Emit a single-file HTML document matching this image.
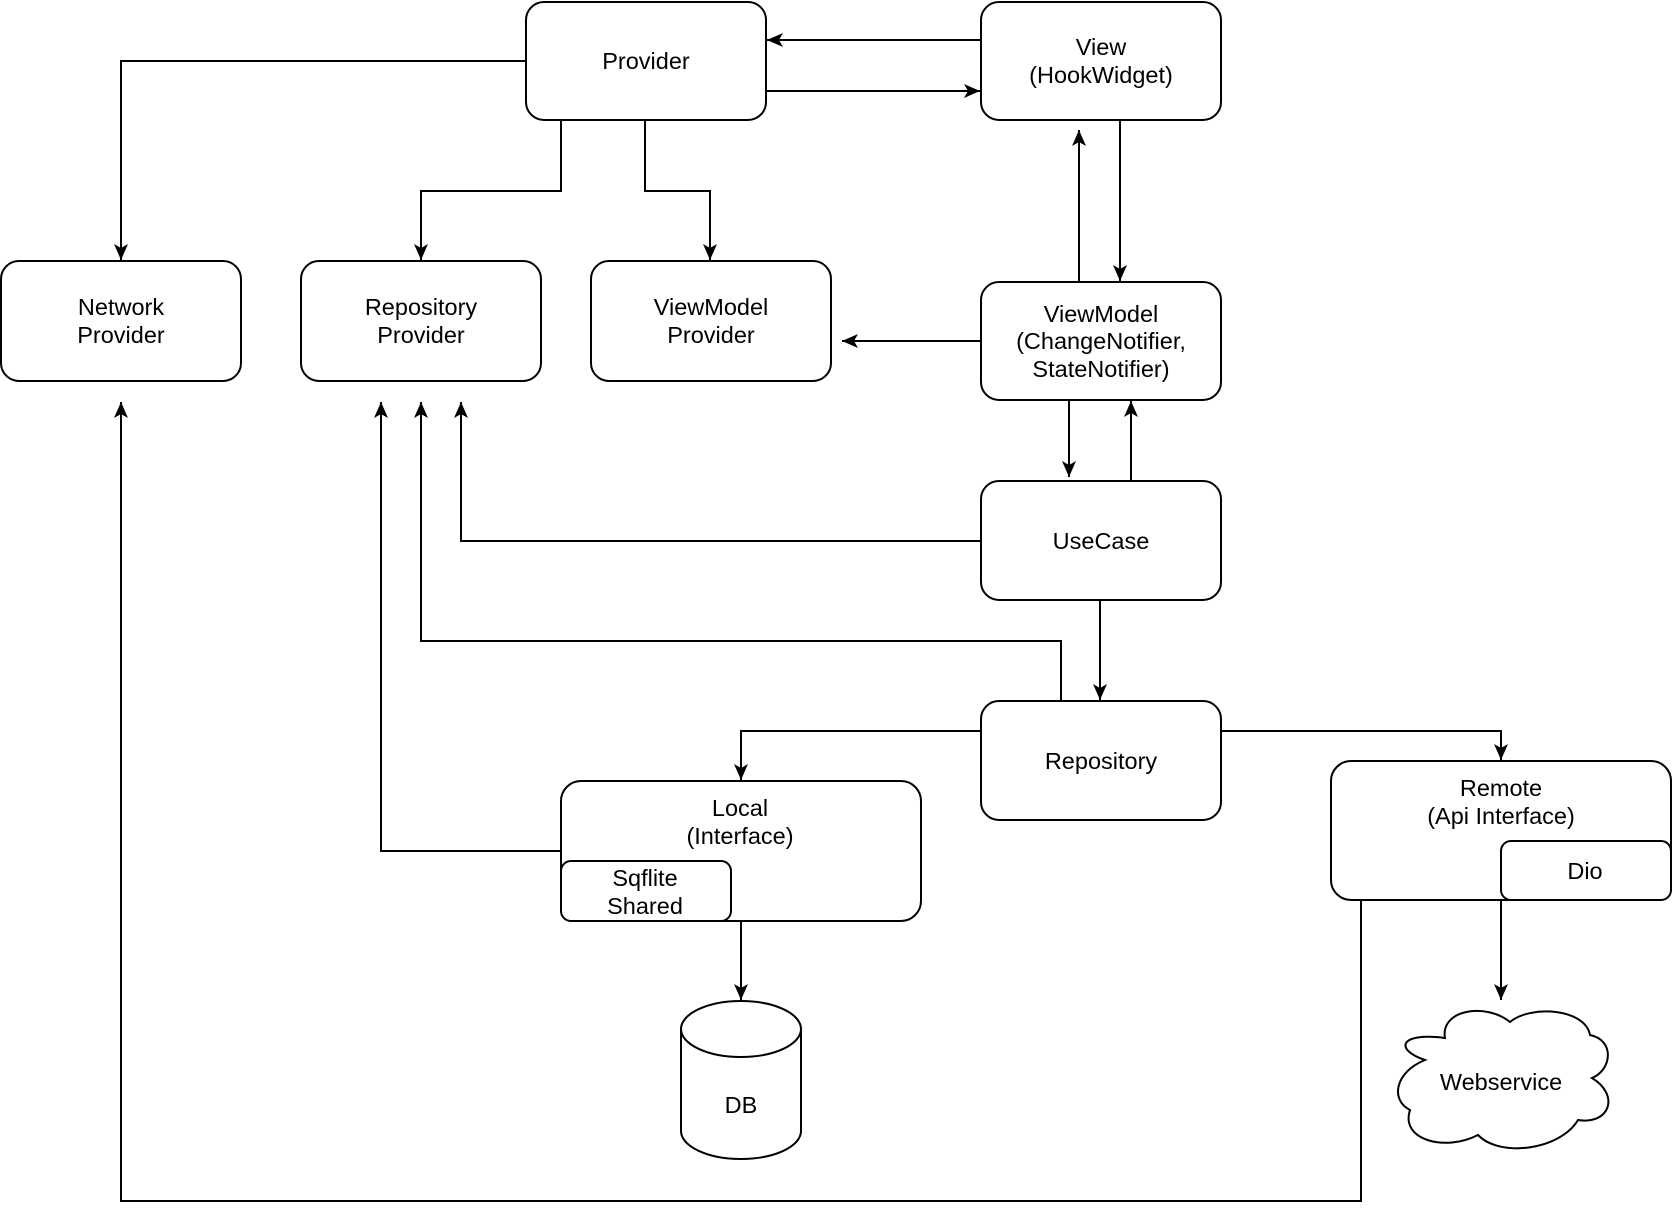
<!DOCTYPE html>
<html><head><meta charset="utf-8"><style>
html,body{margin:0;padding:0;background:#fff;}
svg{display:block;}
text{font-family:"Liberation Sans",Arial,sans-serif;font-size:23.5px;fill:#000;text-anchor:middle;}
</style></head><body>
<svg width="1672" height="1218" viewBox="0 0 1672 1218" xmlns="http://www.w3.org/2000/svg">
<defs>
<marker id="a" markerWidth="18" markerHeight="16" refX="16" refY="7" orient="auto" markerUnits="userSpaceOnUse">
<path d="M0,0 L16,7 L0,14 L4,7 Z" fill="#000"/>
</marker>
</defs>
<g fill="#fff" stroke="#000" stroke-width="2">
<rect x="526" y="2" width="240" height="118" rx="18"/>
<rect x="981" y="2" width="240" height="118" rx="18"/>
<rect x="1" y="261" width="240" height="120" rx="18"/>
<rect x="301" y="261" width="240" height="120" rx="18"/>
<rect x="591" y="261" width="240" height="120" rx="18"/>
<rect x="981" y="282" width="240" height="118" rx="18"/>
<rect x="981" y="481" width="240" height="119" rx="18"/>
<rect x="981" y="701" width="240" height="119" rx="18"/>
<rect x="561" y="781" width="360" height="140" rx="20"/>
<rect x="561" y="861" width="170" height="60" rx="10"/>
<rect x="1331" y="761" width="340" height="139" rx="20"/>
<rect x="1501" y="841" width="170" height="59" rx="10"/>
<path d="M681,1029 A60,28 0 0 1 801,1029 L801,1131 A60,28 0 0 1 681,1131 Z"/>
<path d="M681,1029 A60,28 0 0 0 801,1029" fill="none"/>
<path d="M1425,1060 C1395,1050 1398,1032 1445,1038 C1440,1010 1485,1002 1510,1022 C1530,1005 1585,1008 1590,1035 C1615,1040 1612,1070 1592,1078 C1620,1095 1610,1125 1578,1120 C1560,1150 1500,1158 1478,1135 C1445,1152 1400,1140 1410,1110 C1390,1100 1395,1072 1425,1060 Z"/>
</g>
<g fill="none" stroke="#000" stroke-width="2">
<path d="M981,40 L767,40" marker-end="url(#a)"/>
<path d="M766,91 L980,91" marker-end="url(#a)"/>
<path d="M526,61 L121,61 L121,260" marker-end="url(#a)"/>
<path d="M561,120 L561,191 L421,191 L421,260" marker-end="url(#a)"/>
<path d="M645,120 L645,191 L710,191 L710,260" marker-end="url(#a)"/>
<path d="M1079,282 L1079,130" marker-end="url(#a)"/>
<path d="M1120,120 L1120,281" marker-end="url(#a)"/>
<path d="M981,341 L842,341" marker-end="url(#a)"/>
<path d="M1069,400 L1069,477" marker-end="url(#a)"/>
<path d="M1131,481 L1131,401" marker-end="url(#a)"/>
<path d="M981,541 L461,541 L461,402" marker-end="url(#a)"/>
<path d="M1100,600 L1100,700" marker-end="url(#a)"/>
<path d="M1061,701 L1061,641 L421,641 L421,402" marker-end="url(#a)"/>
<path d="M981,731 L741,731 L741,780" marker-end="url(#a)"/>
<path d="M1221,731 L1501,731 L1501,760" marker-end="url(#a)"/>
<path d="M561,851 L381,851 L381,402" marker-end="url(#a)"/>
<path d="M741,921 L741,1000" marker-end="url(#a)"/>
<path d="M1501,900 L1501,1000" marker-end="url(#a)"/>
<path d="M1361,900 L1361,1201 L121,1201 L121,402" marker-end="url(#a)"/>
</g>
<text x="646" y="69">Provider</text>
<text x="1101" y="55">View</text>
<text x="1101" y="83">(HookWidget)</text>
<text x="121" y="315">Network</text>
<text x="121" y="343">Provider</text>
<text x="421" y="315">Repository</text>
<text x="421" y="343">Provider</text>
<text x="711" y="315">ViewModel</text>
<text x="711" y="343">Provider</text>
<text x="1101" y="322">ViewModel</text>
<text x="1101" y="349">(ChangeNotifier,</text>
<text x="1101" y="377">StateNotifier)</text>
<text x="1101" y="549">UseCase</text>
<text x="1101" y="769">Repository</text>
<text x="740" y="816">Local</text>
<text x="740" y="844">(Interface)</text>
<text x="645" y="886">Sqflite</text>
<text x="645" y="914">Shared</text>
<text x="1501" y="796">Remote</text>
<text x="1501" y="824">(Api Interface)</text>
<text x="1585" y="879">Dio</text>
<text x="741" y="1113">DB</text>
<text x="1501" y="1090">Webservice</text>
</svg>
</body></html>
